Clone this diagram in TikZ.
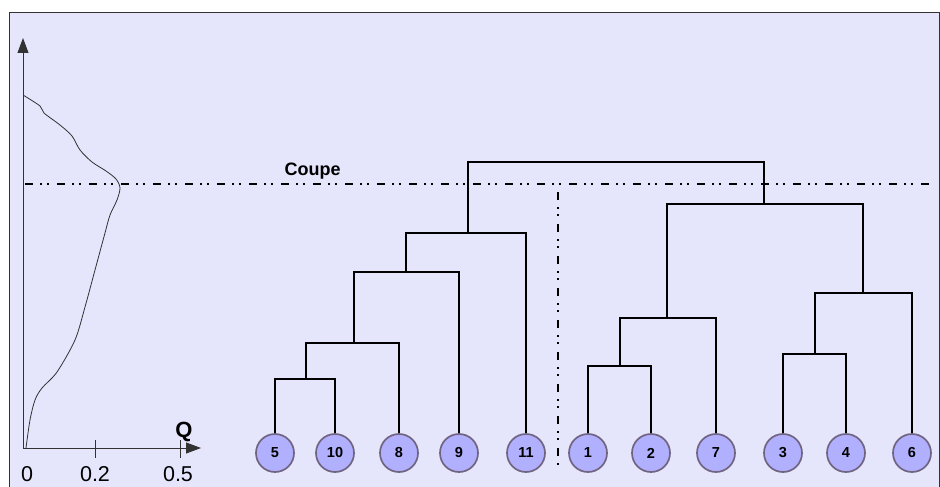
\documentclass[tikz,border=0pt]{standalone}
\usepackage{fontspec}
\setmainfont{Liberation Sans}
\usetikzlibrary{arrows.meta,calc,positioning}
\definecolor{bgblue}{RGB}{229,229,252}
\definecolor{leafblue}{RGB}{176,176,255}
\definecolor{leafrim}{RGB}{112,100,128}
\definecolor{axisgray}{RGB}{50,50,50}
\tikzset{
  leaf/.style={circle,draw=leafrim,line width=1.7pt,fill=leafblue,minimum size=38pt,
    inner sep=0pt,font=\fontsize{14.5}{16}\selectfont\bfseries},
  branch/.style={line width=2.8pt},
  cutline/.style={line width=1.6pt,dash pattern=on 8pt off 7pt on 2pt off 5pt on 2pt off 8pt},
  axislabel/.style={anchor=base,font=\fontsize{21.5}{25}\selectfont},
}

\begin{document}
\begin{tikzpicture}[x=1pt,y=-1pt,>={Triangle[length=15pt,width=11pt]}]
  \useasboundingbox (0,0) rectangle (940,487);
  \fill[white] (0,0) rectangle (940,487);
  \draw[fill=bgblue,draw=axisgray] (9,12) rectangle (939,500);

  % axes of the Q curve
  \coordinate (orig) at (23,448);
  \coordinate (ytip) at (23,38);
  \coordinate (xtip) at (201,448);
  \draw[axisgray,line width=0.9pt,->] (orig) -- (ytip);
  \draw[axisgray,line width=0.9pt,->] (orig) -- (xtip);
  \draw[axisgray,line width=0.9pt] (95,440) -- (95,458);
  \draw[axisgray,line width=0.9pt] (180,440) -- (180,458);
  \node[axislabel] (q0) at (27,481) {0};
  \node[axislabel] (q2) at (95,481) {0.2};
  \node[axislabel] (q5) at (178,481) {0.5};
  \node[axislabel,font=\fontsize{22}{26}\selectfont\bfseries] (qlab) at (184,437) {Q};
  \draw[axisgray,line width=0.8pt] plot[smooth] coordinates {
    (23,95) (40,106) (44,113) (60,125) (72,136) (80,150) (92,162) (106,171)
    (116,179) (120,188) (117,200) (110,215) (105,233) (95,270) (85,307)
    (75,340) (57,372) (42,388) (35,400) (30,420) (26,448)};

  % cut
  \coordinate (cutL) at (25,184);
  \coordinate (cutR) at (932,184);
  \coordinate (cutT) at (558,192);
  \coordinate (cutB) at (558,467);
  \draw[cutline] (cutL) -- (cutR);
  \draw[cutline] (cutT) -- (cutB);
  \node[anchor=base west,font=\fontsize{18}{22}\selectfont\bfseries] (coupe) at (281,175) {Coupe};

  % leaves
  \foreach \lab/\x in {5/275,10/335,8/399,9/459,11/526,1/588,2/651,7/716,3/783,4/846,6/912}
    \node[leaf] (l\lab) at (\x,453) {\lab};

  % merges
  \coordinate (m1) at (306,379);
  \coordinate (m2) at (354,343);
  \coordinate (m3) at (406,272);
  \coordinate (m4) at (468,233);
  \coordinate (m5) at (620,366);
  \coordinate (m6) at (667,318);
  \coordinate (m7) at (815,354);
  \coordinate (m8) at (863,293);
  \coordinate (m9) at (764,204);
  \coordinate (root) at (616,162);
  \draw[branch] (l5.north) |- (m1) -| (l10.north);
  \draw[branch] (m1) |- (m2) -| (l8.north);
  \draw[branch] (m2) |- (m3) -| (l9.north);
  \draw[branch] (m3) |- (m4) -| (l11.north);
  \draw[branch] (l1.north) |- (m5) -| (l2.north);
  \draw[branch] (m5) |- (m6) -| (l7.north);
  \draw[branch] (l3.north) |- (m7) -| (l4.north);
  \draw[branch] (m7) |- (m8) -| (l6.north);
  \draw[branch] (m6) |- (m9) -| (m8);
  \draw[branch] (m4) |- (root) -| (m9);
\end{tikzpicture}
\end{document}
